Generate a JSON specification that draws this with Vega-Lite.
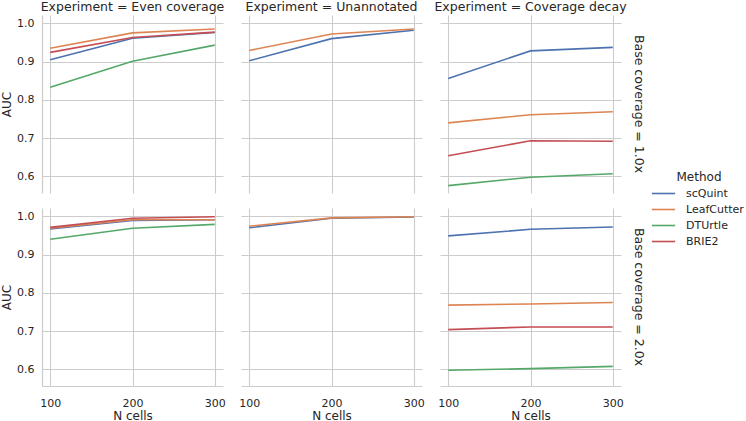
{
  "$schema": "https://vega.github.io/schema/vega-lite/v6.json",
  "padding": {"left": 0, "top": 0, "right": 0, "bottom": 0},
  "background": "white",
  "data": {"values": [
    {"Experiment": "Even coverage", "Coverage": "1.0x", "Method": "scQuint", "N": 100, "AUC": 0.905},
    {"Experiment": "Even coverage", "Coverage": "1.0x", "Method": "scQuint", "N": 200, "AUC": 0.961},
    {"Experiment": "Even coverage", "Coverage": "1.0x", "Method": "scQuint", "N": 300, "AUC": 0.976},
    {"Experiment": "Even coverage", "Coverage": "1.0x", "Method": "LeafCutter", "N": 100, "AUC": 0.935},
    {"Experiment": "Even coverage", "Coverage": "1.0x", "Method": "LeafCutter", "N": 200, "AUC": 0.975},
    {"Experiment": "Even coverage", "Coverage": "1.0x", "Method": "LeafCutter", "N": 300, "AUC": 0.985},
    {"Experiment": "Even coverage", "Coverage": "1.0x", "Method": "DTUrtle", "N": 100, "AUC": 0.833},
    {"Experiment": "Even coverage", "Coverage": "1.0x", "Method": "DTUrtle", "N": 200, "AUC": 0.901},
    {"Experiment": "Even coverage", "Coverage": "1.0x", "Method": "DTUrtle", "N": 300, "AUC": 0.943},
    {"Experiment": "Even coverage", "Coverage": "1.0x", "Method": "BRIE2", "N": 100, "AUC": 0.924},
    {"Experiment": "Even coverage", "Coverage": "1.0x", "Method": "BRIE2", "N": 200, "AUC": 0.963},
    {"Experiment": "Even coverage", "Coverage": "1.0x", "Method": "BRIE2", "N": 300, "AUC": 0.977},
    {"Experiment": "Unannotated", "Coverage": "1.0x", "Method": "scQuint", "N": 100, "AUC": 0.902},
    {"Experiment": "Unannotated", "Coverage": "1.0x", "Method": "scQuint", "N": 200, "AUC": 0.960},
    {"Experiment": "Unannotated", "Coverage": "1.0x", "Method": "scQuint", "N": 300, "AUC": 0.982},
    {"Experiment": "Unannotated", "Coverage": "1.0x", "Method": "LeafCutter", "N": 100, "AUC": 0.929},
    {"Experiment": "Unannotated", "Coverage": "1.0x", "Method": "LeafCutter", "N": 200, "AUC": 0.972},
    {"Experiment": "Unannotated", "Coverage": "1.0x", "Method": "LeafCutter", "N": 300, "AUC": 0.985},
    {"Experiment": "Coverage decay", "Coverage": "1.0x", "Method": "scQuint", "N": 100, "AUC": 0.856},
    {"Experiment": "Coverage decay", "Coverage": "1.0x", "Method": "scQuint", "N": 200, "AUC": 0.928},
    {"Experiment": "Coverage decay", "Coverage": "1.0x", "Method": "scQuint", "N": 300, "AUC": 0.937},
    {"Experiment": "Coverage decay", "Coverage": "1.0x", "Method": "LeafCutter", "N": 100, "AUC": 0.740},
    {"Experiment": "Coverage decay", "Coverage": "1.0x", "Method": "LeafCutter", "N": 200, "AUC": 0.761},
    {"Experiment": "Coverage decay", "Coverage": "1.0x", "Method": "LeafCutter", "N": 300, "AUC": 0.769},
    {"Experiment": "Coverage decay", "Coverage": "1.0x", "Method": "DTUrtle", "N": 100, "AUC": 0.576},
    {"Experiment": "Coverage decay", "Coverage": "1.0x", "Method": "DTUrtle", "N": 200, "AUC": 0.598},
    {"Experiment": "Coverage decay", "Coverage": "1.0x", "Method": "DTUrtle", "N": 300, "AUC": 0.607},
    {"Experiment": "Coverage decay", "Coverage": "1.0x", "Method": "BRIE2", "N": 100, "AUC": 0.654},
    {"Experiment": "Coverage decay", "Coverage": "1.0x", "Method": "BRIE2", "N": 200, "AUC": 0.693},
    {"Experiment": "Coverage decay", "Coverage": "1.0x", "Method": "BRIE2", "N": 300, "AUC": 0.692},
    {"Experiment": "Even coverage", "Coverage": "2.0x", "Method": "scQuint", "N": 100, "AUC": 0.967},
    {"Experiment": "Even coverage", "Coverage": "2.0x", "Method": "scQuint", "N": 200, "AUC": 0.989},
    {"Experiment": "Even coverage", "Coverage": "2.0x", "Method": "scQuint", "N": 300, "AUC": 0.991},
    {"Experiment": "Even coverage", "Coverage": "2.0x", "Method": "LeafCutter", "N": 100, "AUC": 0.969},
    {"Experiment": "Even coverage", "Coverage": "2.0x", "Method": "LeafCutter", "N": 200, "AUC": 0.991},
    {"Experiment": "Even coverage", "Coverage": "2.0x", "Method": "LeafCutter", "N": 300, "AUC": 0.991},
    {"Experiment": "Even coverage", "Coverage": "2.0x", "Method": "DTUrtle", "N": 100, "AUC": 0.940},
    {"Experiment": "Even coverage", "Coverage": "2.0x", "Method": "DTUrtle", "N": 200, "AUC": 0.969},
    {"Experiment": "Even coverage", "Coverage": "2.0x", "Method": "DTUrtle", "N": 300, "AUC": 0.979},
    {"Experiment": "Even coverage", "Coverage": "2.0x", "Method": "BRIE2", "N": 100, "AUC": 0.971},
    {"Experiment": "Even coverage", "Coverage": "2.0x", "Method": "BRIE2", "N": 200, "AUC": 0.995},
    {"Experiment": "Even coverage", "Coverage": "2.0x", "Method": "BRIE2", "N": 300, "AUC": 0.999},
    {"Experiment": "Unannotated", "Coverage": "2.0x", "Method": "scQuint", "N": 100, "AUC": 0.970},
    {"Experiment": "Unannotated", "Coverage": "2.0x", "Method": "scQuint", "N": 200, "AUC": 0.995},
    {"Experiment": "Unannotated", "Coverage": "2.0x", "Method": "scQuint", "N": 300, "AUC": 0.998},
    {"Experiment": "Unannotated", "Coverage": "2.0x", "Method": "LeafCutter", "N": 100, "AUC": 0.974},
    {"Experiment": "Unannotated", "Coverage": "2.0x", "Method": "LeafCutter", "N": 200, "AUC": 0.996},
    {"Experiment": "Unannotated", "Coverage": "2.0x", "Method": "LeafCutter", "N": 300, "AUC": 0.999},
    {"Experiment": "Coverage decay", "Coverage": "2.0x", "Method": "scQuint", "N": 100, "AUC": 0.949},
    {"Experiment": "Coverage decay", "Coverage": "2.0x", "Method": "scQuint", "N": 200, "AUC": 0.966},
    {"Experiment": "Coverage decay", "Coverage": "2.0x", "Method": "scQuint", "N": 300, "AUC": 0.972},
    {"Experiment": "Coverage decay", "Coverage": "2.0x", "Method": "LeafCutter", "N": 100, "AUC": 0.768},
    {"Experiment": "Coverage decay", "Coverage": "2.0x", "Method": "LeafCutter", "N": 200, "AUC": 0.771},
    {"Experiment": "Coverage decay", "Coverage": "2.0x", "Method": "LeafCutter", "N": 300, "AUC": 0.775},
    {"Experiment": "Coverage decay", "Coverage": "2.0x", "Method": "DTUrtle", "N": 100, "AUC": 0.598},
    {"Experiment": "Coverage decay", "Coverage": "2.0x", "Method": "DTUrtle", "N": 200, "AUC": 0.602},
    {"Experiment": "Coverage decay", "Coverage": "2.0x", "Method": "DTUrtle", "N": 300, "AUC": 0.608},
    {"Experiment": "Coverage decay", "Coverage": "2.0x", "Method": "BRIE2", "N": 100, "AUC": 0.704},
    {"Experiment": "Coverage decay", "Coverage": "2.0x", "Method": "BRIE2", "N": 200, "AUC": 0.711},
    {"Experiment": "Coverage decay", "Coverage": "2.0x", "Method": "BRIE2", "N": 300, "AUC": 0.711}
  ]},
  "facet": {
    "column": {
      "field": "Experiment", "type": "nominal",
      "sort": ["Even coverage", "Unannotated", "Coverage decay"],
      "header": {"title": null, "labelExpr": "'Experiment = ' + datum.value", "labelPadding": 2}
    },
    "row": {
      "field": "Coverage", "type": "nominal",
      "sort": ["1.0x", "2.0x"],
      "header": {"title": null, "labelExpr": "'Base coverage = ' + datum.value", "labelOrient": "right", "labelAngle": 90, "labelPadding": 11}
    }
  },
  "spacing": {"row": 15, "column": 18},
  "spec": {
    "width": 181,
    "height": 178,
    "mark": {"type": "line", "strokeWidth": 1.6, "clip": true},
    "encoding": {
      "x": {
        "field": "N", "type": "quantitative", "title": "N cells",
        "scale": {"domain": [90, 310], "nice": false, "zero": false},
        "axis": {"values": [100, 200, 300], "format": "d"}
      },
      "y": {
        "field": "AUC", "type": "quantitative", "title": "AUC",
        "scale": {"domain": [0.5567, 1.0217], "nice": false, "zero": false},
        "axis": {"values": [0.6, 0.7, 0.8, 0.9, 1.0], "format": ".1f"}
      },
      "color": {
        "field": "Method", "type": "nominal",
        "sort": ["scQuint", "LeafCutter", "DTUrtle", "BRIE2"],
        "scale": {"domain": ["scQuint", "LeafCutter", "DTUrtle", "BRIE2"], "range": ["#4c72b0", "#dd8452", "#55a868", "#c44e52"]},
        "legend": {"orient": "none", "legendX": 612, "legendY": 157, "symbolType": "M-1.41,0H1.41", "symbolSize": 272, "symbolStrokeWidth": 1.6, "titleAnchor": "middle", "titlePadding": 0, "rowPadding": 1, "labelOffset": 13}
      }
    }
  },
  "config": {
    "font": "DejaVu Sans",
    "view": {"stroke": null},
    "axis": {
      "gridColor": "#cccccc", "gridWidth": 1.1,
      "domainColor": "#cccccc", "domainWidth": 1.2,
      "ticks": false, "tickSize": 0,
      "labelFont": "DejaVu Sans", "labelFontSize": 11, "labelColor": "#262626",
      "titleFont": "DejaVu Sans", "titleFontSize": 12, "titleColor": "#262626", "titleFontWeight": "normal",
      "labelPadding": 9
    },
    "axisX": {"titlePadding": 2, "labelPadding": 11},
    "axisY": {"titlePadding": 3, "labelPadding": 8},
    "header": {"labelFont": "DejaVu Sans", "labelFontSize": 12.5, "labelColor": "#262626"},
    "legend": {
      "titleFont": "DejaVu Sans", "titleFontSize": 12, "titleColor": "#262626", "titleFontWeight": "normal",
      "labelFont": "DejaVu Sans", "labelFontSize": 11, "labelColor": "#262626"
    }
  }
}
